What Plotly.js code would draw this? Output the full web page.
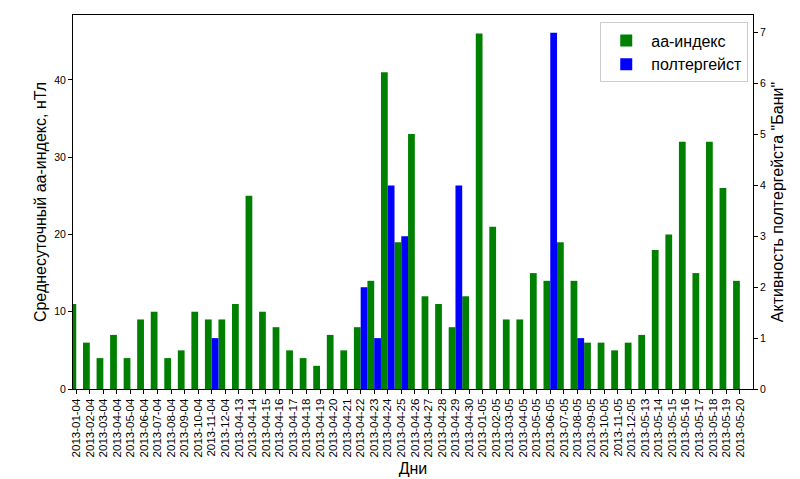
<!DOCTYPE html>
<html>
<head>
<meta charset="utf-8">
<script src="https://cdn.plot.ly/plotly-3.0.1.min.js"></script>
<style>html,body{margin:0;padding:0;background:#fff;}#chart{width:800px;height:479px;}</style>
</head>
<body>
<div id="chart"></div>
<script>
var days = ["2013-01-04","2013-02-04","2013-03-04","2013-04-04","2013-05-04","2013-06-04","2013-07-04","2013-08-04","2013-09-04","2013-10-04","2013-11-04","2013-12-04","2013-04-13","2013-04-14","2013-04-15","2013-04-16","2013-04-17","2013-04-18","2013-04-19","2013-04-20","2013-04-21","2013-04-22","2013-04-23","2013-04-24","2013-04-25","2013-04-26","2013-04-27","2013-04-28","2013-04-29","2013-04-30","2013-01-05","2013-02-05","2013-03-05","2013-04-05","2013-05-05","2013-06-05","2013-07-05","2013-08-05","2013-09-05","2013-10-05","2013-11-05","2013-12-05","2013-05-13","2013-05-14","2013-05-15","2013-05-16","2013-05-17","2013-05-18","2013-05-19","2013-05-20"];
var aaIndex = [11,6,4,7,4,9,10,4,5,10,9,9,11,25,10,8,5,4,3,7,5,8,14,41,19,33,12,11,8,12,46,21,9,9,15,14,19,14,6,6,5,6,7,18,20,32,15,32,26,14];
var poltergeist = [0,0,0,0,0,0,0,0,0,0,1,0,0,0,0,0,0,0,0,0,0,2,1,4,3,0,0,0,4,0,0,0,0,0,0,7,0,1,0,0,0,0,0,0,0,0,0,0,0,0];

var idx = days.map(function(d,i){return i;});
var font = "Liberation Sans, Arial, sans-serif";

var traces = [
  {type:'bar', x: idx, y: aaIndex, name:'аа-индекс', marker:{color:'#008000'}, width:0.5, offset:-0.5, xaxis:'x', yaxis:'y'},
  {type:'bar', x: idx, y: poltergeist, name:'полтергейст', marker:{color:'#0000ff'}, width:0.5, offset:0, xaxis:'x', yaxis:'y2'}
];

var layout = {
  width:800, height:479,
  margin:{l:73, r:47, t:15, b:90},
  paper_bgcolor:'#fff', plot_bgcolor:'#fff',
  barmode:'overlay',
  font:{family:font, size:11, color:'#000'},
  showlegend:true,
  legend:{x:0.993, y:0.98, xanchor:'right', yanchor:'top', bgcolor:'rgba(255,255,255,0.9)', bordercolor:'#cccccc', borderwidth:1, itemwidth:40, tracegroupgap:2, font:{size:16, family:font}},
  xaxis:{
    range:[-0.24, 49.97], tickvals: idx, ticktext: days, tickangle:-90,
    ticks:'outside', ticklen:4, tickcolor:'#000', showgrid:false, zeroline:false,
    showline:true, linecolor:'#000', linewidth:1, mirror:true,
    tickfont:{size:11.5, family:font},
    title:{text:'Дни', font:{size:16, family:font}, standoff:6}
  },
  yaxis:{
    range:[0, 48.4], tickvals:[0,10,20,30,40], ticks:'outside', ticklen:4, tickcolor:'#000',
    showgrid:false, zeroline:false, showline:true, linecolor:'#000', linewidth:1,
    tickfont:{size:10.5, family:font},
    title:{text:'Среднесуточный аа-индекс, нТл', font:{size:16, family:font}, standoff:3}
  },
  yaxis2:{
    range:[0, 7.35], tickvals:[0,1,2,3,4,5,6,7], overlaying:'y', side:'right', anchor:'x',
    ticks:'outside', ticklen:4, tickcolor:'#000', showgrid:false, zeroline:false,
    showline:true, linecolor:'#000', linewidth:1,
    tickfont:{size:10.5, family:font},
    title:{text:'Активность полтергейста "Бани"', font:{size:16, family:font}, standoff:6}
  }
};

Plotly.newPlot('chart', traces, layout, {displayModeBar:false, staticPlot:true});
</script>
</body>
</html>
